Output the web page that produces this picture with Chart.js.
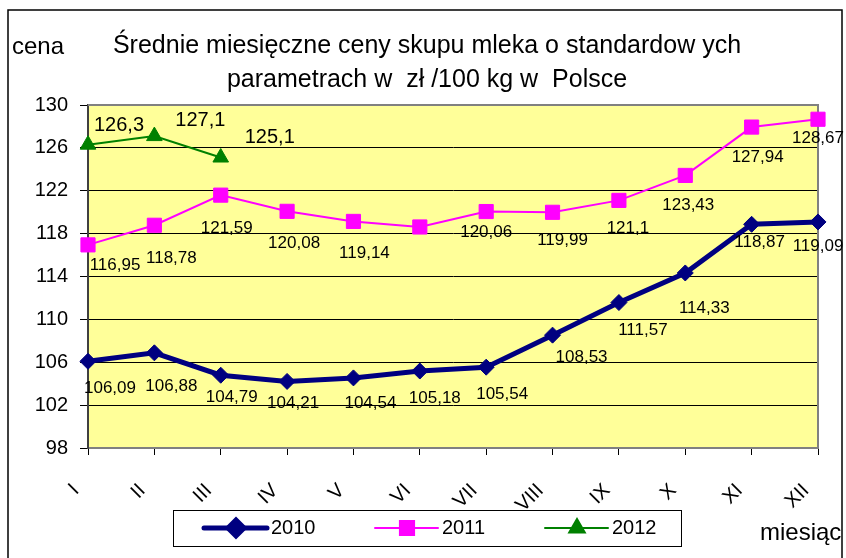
<!DOCTYPE html>
<html>
<head>
<meta charset="utf-8">
<script src="https://cdn.jsdelivr.net/npm/chart.js@4.4.1/dist/chart.umd.min.js"></script>
<style>
  html, body { margin: 0; padding: 0; background: #fff; }
  #wrap { width: 846px; height: 558px; }
</style>
</head>
<body>
<div id="wrap"><canvas id="milkChart" width="846" height="558"></canvas></div>
<script>
// data
const months = ['I', 'II', 'III', 'IV', 'V', 'VI', 'VII', 'VIII', 'IX', 'X', 'XI', 'XII'];
const prices2010 = [106.09, 106.88, 104.79, 104.21, 104.54, 105.18, 105.54, 108.53, 111.57, 114.33, 118.87, 119.09];
const prices2011 = [116.95, 118.78, 121.59, 120.08, 119.14, 118.62, 120.06, 119.99, 121.1, 123.43, 127.94, 128.67];
const prices2012 = [126.3, 127.1, 125.1];
const yTicks = [98, 102, 106, 110, 114, 118, 122, 126, 130];

// where each value label sits relative to its point (null = no label)
const labelOffsets2010 = [[22, 27], [17, 33], [11, 22], [6, 22], [17, 25], [15, 27], [16, 27], [29, 22], [24, 28], [19, 35], [8, 18], [0, 24]];
const labelOffsets2011 = [[27, 20], [17, 33], [6, 33], [7, 32], [11, 32], null, [0, 21], [10, 28], [9, 28], [3, 30], [6, 30], [0, 19]];
const labelOffsets2012 = [[31, -19], [46, -16], [49, -20]];

const FONT = '"Liberation Sans", Arial, sans-serif';

function fmt(v) {
    return v.toString().replace('.', ',');
}

const decorPlugin = {
    id: 'decor',
    beforeDraw(chart) {
        const { ctx, chartArea: a } = chart;
        ctx.save();
        ctx.fillStyle = '#fff';
        ctx.fillRect(0, 0, chart.width, chart.height);
        // outer frame
        ctx.strokeStyle = '#000';
        ctx.lineWidth = 1.5;
        ctx.strokeRect(8, 10, 834, 560);
        // plot background
        ctx.fillStyle = '#FFFF99';
        ctx.fillRect(a.left, a.top, a.right - a.left, a.bottom - a.top);
        ctx.restore();
    },
    beforeDatasetsDraw(chart) {
        const { ctx, chartArea: a } = chart;
        ctx.save();
        ctx.strokeStyle = '#808080';
        ctx.lineWidth = 2;
        ctx.beginPath();
        ctx.moveTo(a.left, a.top);
        ctx.lineTo(a.right, a.top);
        ctx.lineTo(a.right, a.bottom);
        ctx.stroke();
        ctx.restore();
    },
    afterDraw(chart) {
        const { ctx } = chart;
        ctx.save();
        ctx.fillStyle = '#000';
        ctx.textBaseline = 'middle';
        // title
        ctx.font = '25px ' + FONT;
        ctx.textAlign = 'center';
        ctx.fillText('Średnie miesięczne ceny skupu mleka o standardow ych', 427, 46);
        ctx.fillText('parametrach w  zł /100 kg w  Polsce', 427, 80);
        ctx.font = '24px ' + FONT;
        ctx.textAlign = 'left';
        ctx.fillText('cena', 12, 47);
        ctx.fillText('miesiąc', 760, 533);

        // value labels
        const sets = [
            { offs: labelOffsets2010, font: '17px ' + FONT },
            { offs: labelOffsets2011, font: '17px ' + FONT },
            { offs: labelOffsets2012, font: '20px ' + FONT }
        ];
        ctx.textAlign = 'center';
        chart.data.datasets.forEach((ds, i) => {
            const meta = chart.getDatasetMeta(i);
            ctx.font = sets[i].font;
            meta.data.forEach((pt, j) => {
                const o = sets[i].offs[j];
                if (!o) return;
                ctx.fillText(fmt(ds.data[j]), pt.x + o[0], pt.y + o[1]);
            });
        });

        // legend
        ctx.strokeStyle = '#000';
        ctx.lineWidth = 1;
        ctx.fillStyle = '#fff';
        ctx.fillRect(173.5, 510.5, 508, 36);
        ctx.strokeRect(173.5, 510.5, 508, 36);
        const lx = [204, 375, 545];
        ctx.textAlign = 'left';
        ctx.font = '20px ' + FONT;
        chart.data.datasets.forEach((ds, i) => {
            const x0 = lx[i], y0 = 528;
            ctx.strokeStyle = ds.borderColor;
            ctx.lineWidth = ds.borderWidth;
            ctx.lineCap = 'round';
            ctx.beginPath();
            ctx.moveTo(x0, y0);
            ctx.lineTo(x0 + 63, y0);
            ctx.stroke();
            ctx.lineCap = 'butt';
            ctx.fillStyle = ds.pointBackgroundColor;
            ctx.strokeStyle = ds.pointBorderColor;
            Chart.helpers.drawPoint(ctx, {
                pointStyle: ds.pointStyle,
                radius: ds.pointRadius,
                borderWidth: 1,
                rotation: 0
            }, x0 + 32, y0);
            ctx.fillStyle = '#000';
            ctx.fillText(ds.label, x0 + 67, y0);
        });
        ctx.restore();
    }
};

new Chart(document.getElementById('milkChart'), {
    type: 'line',
    data: {
        labels: months,
        datasets: [
            {
                label: '2010',
                data: prices2010,
                borderColor: '#000080',
                borderWidth: 5,
                pointStyle: 'rectRot',
                pointRadius: 8,
                pointBackgroundColor: '#000080',
                pointBorderColor: '#000080',
                pointBorderWidth: 1,
                tension: 0
            },
            {
                label: '2011',
                data: prices2011,
                borderColor: '#FF00FF',
                borderWidth: 2,
                pointStyle: 'rect',
                pointRadius: 10,
                pointBackgroundColor: '#FF00FF',
                pointBorderColor: '#FF00FF',
                pointBorderWidth: 1,
                tension: 0
            },
            {
                label: '2012',
                data: prices2012,
                borderColor: '#008000',
                borderWidth: 2,
                pointStyle: 'triangle',
                pointRadius: 9,
                pointBackgroundColor: '#008000',
                pointBorderColor: '#008000',
                pointBorderWidth: 1,
                tension: 0
            }
        ]
    },
    options: {
        responsive: false,
        animation: false,
        devicePixelRatio: 1,
        layout: { padding: { left: 0, top: 105, right: 28, bottom: 0 } },
        plugins: {
            legend: { display: false },
            tooltip: { enabled: false },
            title: { display: false }
        },
        scales: {
            x: {
                offset: false,
                afterFit(scale) {
                    scale.height = 110;
                    scale.paddingLeft = 0;
                    scale.paddingRight = 0;
                },
                grid: {
                    drawOnChartArea: false,
                    drawTicks: true,
                    tickLength: 7,
                    color: '#000'
                },
                border: { color: '#808080', width: 2 },
                ticks: {
                    color: '#000',
                    font: { family: FONT, size: 20 },
                    minRotation: 45,
                    maxRotation: 45,
                    padding: 24,
                    labelOffset: -12,
                    autoSkip: false
                }
            },
            y: {
                min: 98,
                max: 130,
                afterFit(scale) { scale.width = 88; },
                afterBuildTicks(scale) {
                    scale.ticks = yTicks.map(v => ({ value: v }));
                },
                grid: {
                    color: ctx => (ctx.tick && ctx.tick.value === 130 ? '#808080' : '#000'),
                    lineWidth: 1,
                    tickLength: 8,
                    tickColor: '#000'
                },
                border: { color: '#404040', width: 2 },
                ticks: {
                    color: '#000',
                    font: { family: FONT, size: 20 },
                    padding: 12
                }
            }
        }
    },
    plugins: [decorPlugin]
});
</script>
</body>
</html>
